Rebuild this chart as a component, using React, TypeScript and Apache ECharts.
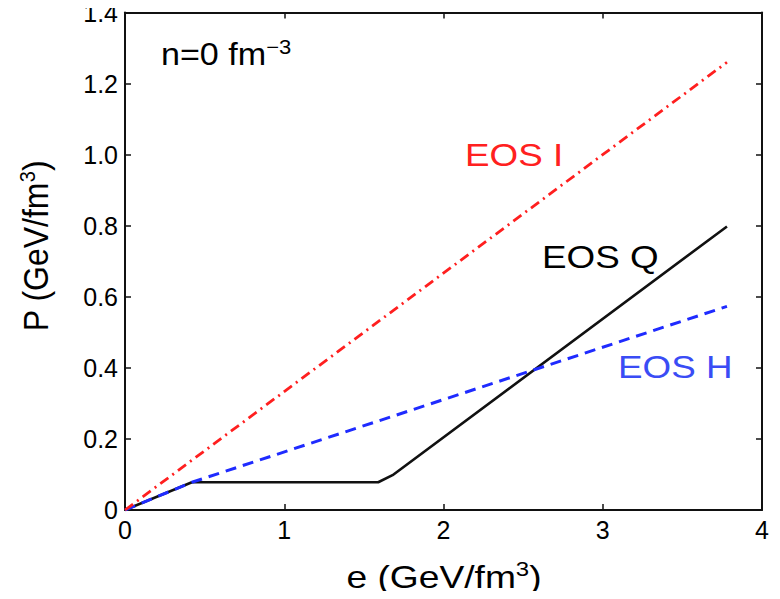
import React, { useEffect, useRef } from "react";
import * as echarts from "echarts";

// EOS I : P = e/3
const eosI_e = [0, 3.78];
const eosI_p = [0, 1.26];
// EOS H : hadron resonance gas
const eosH_e = [0, 0.42, 3.78];
const eosH_p = [0, 0.078, 0.573];
// EOS Q : hadron gas + mixed phase + QGP
const eosQ_e = [0, 0.42, 1.59, 1.68, 3.78];
const eosQ_p = [0, 0.078, 0.078, 0.098, 0.798];

const xTicks = [0, 1, 2, 3, 4];
const yTicks = [0, 0.2, 0.4, 0.6, 0.8, 1.0, 1.2, 1.4];

const FONT = "'Liberation Sans', Arial, Helvetica, sans-serif";

const pairs = (xs: number[], ys: number[]) => xs.map((x, i) => [x, ys[i]]);

export default function App() {
  const ref = useRef<HTMLDivElement>(null);
  useEffect(() => {
    if (!ref.current) return;
    const chart = echarts.init(ref.current, undefined, { renderer: "svg" });
    const axisLine = { show: true, onZero: false, lineStyle: { color: "#111", width: 2 } };
    const tick = { show: true, inside: true, length: 6, lineStyle: { color: "#111", width: 1.5 } };
    const xBase = {
      type: "value" as const,
      min: xTicks[0],
      max: xTicks[xTicks.length - 1],
      interval: 1,
      splitLine: { show: false },
      axisLine,
      axisTick: tick,
    };
    const yBase = {
      type: "value" as const,
      min: yTicks[0],
      max: yTicks[yTicks.length - 1],
      interval: 0.2,
      splitLine: { show: false },
      axisLine,
      axisTick: tick,
    };
    const sx = 1.15;
    const supRich = { sup: { fontSize: 20, verticalAlign: "top", lineHeight: 20, fontFamily: FONT, fill: "#000" } };
    chart.setOption({
      animation: false,
      backgroundColor: "#ffffff",
      grid: { left: 125, right: 18, top: 10, bottom: 89, containLabel: false },
      xAxis: [
        {
          ...xBase,
          position: "bottom",
          axisLabel: { show: true, color: "#000", fontSize: 25, fontFamily: FONT, margin: 7 },
        },
        { ...xBase, position: "top", axisLabel: { show: false } },
      ],
      yAxis: [
        {
          ...yBase,
          position: "left",
          axisLabel: {
            show: true,
            color: "#000",
            fontSize: 25,
            fontFamily: FONT,
            margin: 7,
            formatter: (v: number) => (v === 0 ? "0" : v.toFixed(1)),
          },
        },
        { ...yBase, position: "right", axisLabel: { show: false } },
      ],
      series: [
        {
          type: "line",
          name: "EOS Q",
          data: pairs(eosQ_e, eosQ_p),
          showSymbol: false,
          symbol: "none",
          lineStyle: { color: "#111111", width: 2.6, type: "solid" },
          z: 2,
        },
        {
          type: "line",
          name: "EOS H",
          data: pairs(eosH_e, eosH_p),
          showSymbol: false,
          symbol: "none",
          lineStyle: { color: "#1f2bff", width: 3, type: [11, 7] },
          z: 3,
        },
        {
          type: "line",
          name: "EOS I",
          data: pairs(eosI_e, eosI_p),
          showSymbol: false,
          symbol: "none",
          lineStyle: { color: "#ff1f1f", width: 2.8, type: [10, 5, 2, 5] },
          z: 4,
        },
      ],
      graphic: [
        {
          type: "text",
          x: 161,
          y: 55,
          scaleX: 1.1,
          style: {
            text: "n=0 fm{sup|−3}",
            fontSize: 31,
            fontFamily: FONT,
            fill: "#000",
            align: "left",
            verticalAlign: "middle",
            lineHeight: 36,
            rich: supRich,
          },
        },
        {
          type: "text",
          x: 465,
          y: 155,
          scaleX: sx,
          style: { text: "EOS I", fontSize: 32, fontFamily: FONT, fill: "#ff2020", align: "left", verticalAlign: "middle" },
        },
        {
          type: "text",
          x: 542,
          y: 257,
          scaleX: sx,
          style: { text: "EOS Q", fontSize: 32, fontFamily: FONT, fill: "#000", align: "left", verticalAlign: "middle" },
        },
        {
          type: "text",
          x: 618,
          y: 367,
          scaleX: sx,
          style: { text: "EOS H", fontSize: 32, fontFamily: FONT, fill: "#3a4cf5", align: "left", verticalAlign: "middle" },
        },
        {
          type: "text",
          x: 444,
          y: 577,
          scaleX: 1.2,
          style: {
            text: "e (GeV/fm{sup|3})",
            fontSize: 31,
            fontFamily: FONT,
            fill: "#000",
            align: "center",
            verticalAlign: "middle",
            lineHeight: 36,
            rich: supRich,
          },
        },
        {
          type: "text",
          x: 36,
          y: 246,
          rotation: Math.PI / 2,
          scaleY: 1.1,
          style: {
            text: "P (GeV/fm{sup|3})",
            fontSize: 32,
            fontFamily: FONT,
            fill: "#000",
            align: "center",
            verticalAlign: "middle",
            lineHeight: 36,
            rich: supRich,
          },
        },
      ],
    });
    return () => chart.dispose();
  }, []);
  return <div ref={ref} style={{ width: 780, height: 599, margin: -8 }} />;
}
